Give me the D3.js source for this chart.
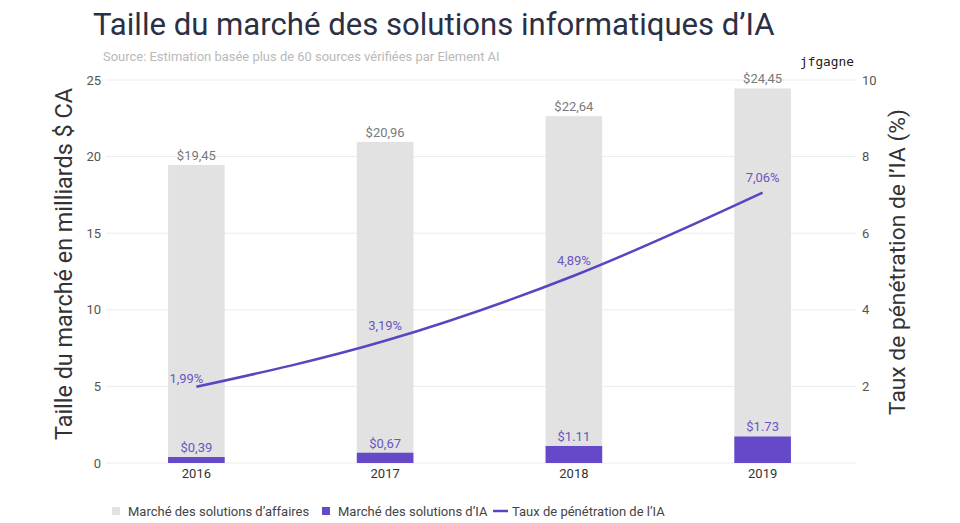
<!DOCTYPE html>
<html>
<head>
<meta charset="utf-8">
<script src="https://cdn.jsdelivr.net/npm/d3@7"></script>
<style>
  html, body { margin: 0; padding: 0; background: #fff; }
  svg { display: block; font-family: Roboto, "Noto Sans", sans-serif; }
</style>
</head>
<body>
<svg id="chart" width="960" height="523"></svg>
<script>
const years = ["2016", "2017", "2018", "2019"];
const businessMarket = [19.45, 20.96, 22.64, 24.45];
const businessLabels = ["$19,45", "$20,96", "$22,64", "$24,45"];
const aiMarket = [0.39, 0.67, 1.11, 1.73];
const aiLabels = ["$0,39", "$0,67", "$1.11", "$1.73"];
const penetration = [1.99, 3.19, 4.89, 7.06];
const penetrationLabels = ["1,99%", "3,19%", "4,89%", "7,06%"];
const leftTicks = [0, 5, 10, 15, 20, 25];
const rightTicks = [2, 4, 6, 8, 10];
const legendItems = ["Marché des solutions d’affaires", "Marché des solutions d’IA", "Taux de pénétration de l’IA"];

const svg = d3.select("#chart");
const grey = "#e2e2e2", purple = "#6649c9", lineCol = "#5a45c0", purpleText = "#6a56c2";

const x = d3.scaleBand().domain(years).range([102, 857]).paddingInner(0.7).paddingOuter(0.35);
const yL = d3.scaleLinear().domain([0, 25]).range([463, 80]);
const yR = d3.scaleLinear().domain([0, 10]).range([463, 80]);

function fit(sel, w) {
  const n = sel.node();
  const len = n.getComputedTextLength();
  const fs = parseFloat(sel.attr("font-size"));
  sel.attr("font-size", fs * w / len);
}

// Title
svg.append("text").attr("x", 93).attr("y", 35).attr("font-size", 32).attr("fill", "#2b3044")
  .text("Taille du marché des solutions informatiques d’IA").call(fit, 682);
svg.append("text").attr("x", 103).attr("y", 61).attr("font-size", 12.5).attr("fill", "#b9b9b9")
  .text("Source: Estimation basée plus de 60 sources vérifiées par Element AI").call(fit, 397);
svg.append("text").attr("x", 800).attr("y", 66).attr("font-size", 13).attr("fill", "#222")
  .attr("font-family", "DejaVu Sans Mono, monospace").text("jfgagne").call(fit, 54);

// Gridlines
svg.append("g").selectAll("line").data(leftTicks).join("line")
  .attr("x1", 106).attr("x2", 856)
  .attr("y1", d => yL(d)).attr("y2", d => yL(d))
  .attr("stroke", "#ececec").attr("stroke-width", 1);

// Left axis
const axL = svg.append("g").attr("transform", "translate(104,0)")
  .call(d3.axisLeft(yL).tickValues(leftTicks).tickSize(0).tickPadding(3));
axL.select(".domain").remove();
axL.selectAll("text").attr("font-size", 13).attr("fill", "#555").attr("font-family", "Roboto, sans-serif");

// Right axis
const axR = svg.append("g").attr("transform", "translate(858,0)")
  .call(d3.axisRight(yR).tickValues(rightTicks).tickSize(0).tickPadding(4));
axR.select(".domain").remove();
axR.selectAll("text").attr("font-size", 13).attr("fill", "#555").attr("font-family", "Roboto, sans-serif");

// X axis labels
const axX = svg.append("g").attr("transform", "translate(0,465)")
  .call(d3.axisBottom(x).tickSize(0).tickPadding(4));
axX.select(".domain").remove();
axX.selectAll("text").attr("font-size", 13).attr("fill", "#333").attr("font-family", "Roboto, sans-serif");

// Business bars
svg.append("g").selectAll("rect").data(years).join("rect")
  .attr("x", d => x(d)).attr("width", x.bandwidth())
  .attr("y", (d, i) => yL(businessMarket[i])).attr("height", (d, i) => yL(0) - yL(businessMarket[i]))
  .attr("fill", grey);
svg.append("g").selectAll("text").data(years).join("text")
  .attr("x", d => x(d) + x.bandwidth() / 2).attr("y", (d, i) => yL(businessMarket[i]) - 5)
  .attr("text-anchor", "middle").attr("font-size", 13).attr("fill", "#7a7a7a")
  .text((d, i) => businessLabels[i]);

// AI bars
svg.append("g").selectAll("rect").data(years).join("rect")
  .attr("x", d => x(d)).attr("width", x.bandwidth())
  .attr("y", (d, i) => yL(aiMarket[i])).attr("height", (d, i) => yL(0) - yL(aiMarket[i]))
  .attr("fill", purple);
svg.append("g").selectAll("text").data(years).join("text")
  .attr("x", d => x(d) + x.bandwidth() / 2).attr("y", (d, i) => yL(aiMarket[i]) - 5)
  .attr("text-anchor", "middle").attr("font-size", 13).attr("fill", purpleText)
  .text((d, i) => aiLabels[i]);

// Line
const cx = d => x(d) + x.bandwidth() / 2;
const line = d3.line().x(d => cx(d)).y((d, i) => yR(penetration[i])).curve(d3.curveMonotoneX);
svg.append("path").datum(years).attr("d", line)
  .attr("fill", "none").attr("stroke", lineCol).attr("stroke-width", 2.5);
svg.append("g").selectAll("text").data(years).join("text")
  .attr("x", (d, i) => cx(d) - (i === 0 ? 10 : 0))
  .attr("y", (d, i) => yR(penetration[i]) - (i === 0 ? 4 : 11))
  .attr("text-anchor", "middle").attr("font-size", 13).attr("fill", purpleText)
  .text((d, i) => penetrationLabels[i]);

// Axis titles
svg.append("text").attr("transform", "translate(72,264) rotate(-90)")
  .attr("text-anchor", "middle").attr("font-size", 24).attr("fill", "#333")
  .text("Taille du marché en milliards $ CA").call(fit, 352);
svg.append("text").attr("transform", "translate(905,262) rotate(-90)")
  .attr("text-anchor", "middle").attr("font-size", 24).attr("fill", "#333")
  .text("Taux de pénétration de l’IA (%)").call(fit, 306);

// Legend
const lg = svg.append("g").attr("font-size", 13).attr("fill", "#444");
lg.append("rect").attr("x", 112).attr("y", 507).attr("width", 8).attr("height", 8).attr("fill", grey);
lg.append("text").attr("x", 128).attr("y", 516).text(legendItems[0]).call(fit, 178);
lg.append("rect").attr("x", 322).attr("y", 507).attr("width", 8).attr("height", 8).attr("fill", purple);
lg.append("text").attr("x", 338).attr("y", 516).text(legendItems[1]).call(fit, 146);
lg.append("line").attr("x1", 493).attr("x2", 508).attr("y1", 511).attr("y2", 511).attr("stroke", lineCol).attr("stroke-width", 2.5);
lg.append("text").attr("x", 512).attr("y", 516).text(legendItems[2]).call(fit, 156);
</script>
</body>
</html>
